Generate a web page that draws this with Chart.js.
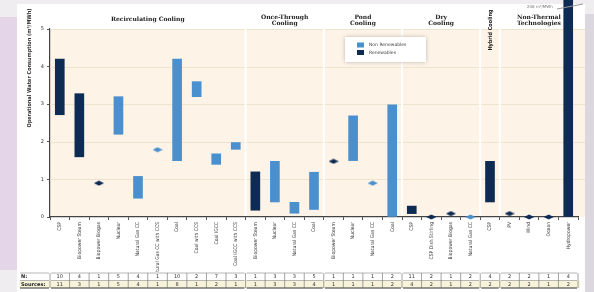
<!DOCTYPE html>
<html>
<head>
<meta charset="utf-8">
<script src="https://cdn.jsdelivr.net/npm/chart.js@4.4.1/dist/chart.umd.min.js"></script>
<style>
  html, body { margin: 0; padding: 0; background: #efedf0; }
  #wrap { width: 594px; height: 292px; }
</style>
</head>
<body>
<div id="wrap"><canvas id="myChart" width="594" height="292"></canvas></div>
<script>
let categories = [
  "CSP", "Biopower Steam", "Biopower Biogas", "Nuclear", "Natural Gas CC",
  "Natural Gas CC with CCS", "Coal", "Coal with CCS", "Coal IGCC", "Coal IGCC with CCS",
  "Biopower Steam", "Nuclear", "Natural Gas CC", "Coal",
  "Biopower Steam", "Nuclear", "Natural Gas CC", "Coal",
  "CSP", "CSP Dish Stirling", "Biopower Biogas", "Natural Gas CC",
  "CSP",
  "PV", "Wind", "Ocean", "Hydropower"
];

// floating ranges (low / high), null where there is no range bar
let nonRenewLow  = [null, null, null, 2.2, 0.5, null, 1.5, 3.2, 1.4, 1.8,
  null, 0.4, 0.1, 0.2,  null, 1.5, null, 0,  null, null, null, null,  null,  null, null, null, null];
let nonRenewHigh = [null, null, null, 3.2, 1.08, null, 4.2, 3.6, 1.68, 1.98,
  null, 1.48, 0.39, 1.19,  null, 2.69, null, 2.98,  null, null, null, null,  null,  null, null, null, null];
let renewLow  = [2.72, 1.6, null, null, null, null, null, null, null, null,
  0.18, null, null, null,  null, null, null, null,  0.09, null, null, null,  0.4,  null, null, null, 0];
let renewHigh = [4.2, 3.28, null, null, null, null, null, null, null, null,
  1.2, null, null, null,  null, null, null, null,  0.29, null, null, null,  1.48,  null, null, null, 208];

// single values (drawn as diamonds)
let nonRenewPoint = [null, null, null, null, null, 1.79, null, null, null, null,
  null, null, null, null,  null, null, 0.9, null,  null, null, null, 0,  null,  null, null, null, null];
let renewPoint = [null, null, 0.9, null, null, null, null, null, null, null,
  null, null, null, null,  1.48, null, null, null,  null, 0, 0.09, null,  null,  0.09, 0, 0, null];

let nCounts      = [10, 4, 1, 5, 4, 1, 10, 2, 7, 3,  1, 3, 3, 5,  1, 1, 1, 2,  11, 2, 1, 2,  4,  2, 2, 1, 4];
let sourceCounts = [11, 3, 1, 5, 4, 1, 8, 1, 2, 1,  1, 3, 3, 4,  1, 1, 1, 2,  4, 2, 1, 2,  2,  2, 2, 1, 2];

let groups = [
  { label: ["Recirculating Cooling"], from: 0, to: 9 },
  { label: ["Once-Through", "Cooling"], from: 10, to: 13 },
  { label: ["Pond", "Cooling"], from: 14, to: 17 },
  { label: ["Dry", "Cooling"], from: 18, to: 21 },
  { label: ["Hybrid Cooling"], from: 22, to: 22, vertical: true },
  { label: ["Non-Thermal", "Technologies"], from: 23, to: 26 }
];

let yTicks = [0, 1, 2, 3, 4, 5];

const lightBlue = "rgb(74, 143, 206)";
const darkBlue = "rgb(14, 43, 83)";
const narrow = "'Liberation Sans Narrow', 'DejaVu Sans Condensed', sans-serif";

function toRange(lows, highs) {
  return lows.map((l, i) => (l === null ? null : [l, highs[i]]));
}

function diamond(color) {
  let c = document.createElement("canvas");
  c.width = 10; c.height = 6;
  let g = c.getContext("2d");
  g.fillStyle = color;
  g.beginPath();
  g.moveTo(0, 3); g.lineTo(5, 0.5); g.lineTo(10, 3); g.lineTo(5, 5.5);
  g.closePath();
  g.fill();
  return c;
}

let decor = {
  id: "decor",
  beforeDraw(chart) {
    let ctx = chart.ctx, a = chart.chartArea;
    ctx.save();
    ctx.fillStyle = "#efedf0";
    ctx.fillRect(0, 0, 594, 292);
    ctx.fillStyle = "#ffffff";
    ctx.fillRect(17, 4, 568, 288);
    ctx.fillStyle = "#e4d6e8";
    ctx.fillRect(0, 17, 17, 253);
    ctx.fillStyle = "#dcd7de";
    ctx.fillRect(585, 14, 9, 278);
    ctx.fillStyle = "#fdf3e7";
    ctx.fillRect(a.left, a.top, 585 - a.left, a.bottom - a.top);
    ctx.restore();
  },
  beforeDatasetsDraw(chart) {
    let ctx = chart.ctx, a = chart.chartArea, x = chart.scales.x, y = chart.scales.y;
    ctx.save();
    ctx.strokeStyle = "#efe2cf";
    ctx.lineWidth = 1;
    yTicks.forEach(v => {
      if (v === 0) return;
      let py = Math.round(y.getPixelForValue(v)) + 0.5;
      ctx.beginPath(); ctx.moveTo(a.left, py); ctx.lineTo(585, py); ctx.stroke();
    });
    ctx.strokeStyle = "#ffffff";
    ctx.lineWidth = 2;
    groups.forEach((g, gi) => {
      if (gi === 0) return;
      let px = (x.getPixelForValue(g.from - 1) + x.getPixelForValue(g.from)) / 2;
      ctx.beginPath(); ctx.moveTo(px, a.top); ctx.lineTo(px, a.bottom - 1); ctx.stroke();
    });
    ctx.restore();
  },
  afterDraw(chart) {
    let ctx = chart.ctx, a = chart.chartArea, x = chart.scales.x;
    ctx.save();

    // group headers
    ctx.fillStyle = "#222";
    ctx.textAlign = "center";
    ctx.textBaseline = "middle";
    groups.forEach(g => {
      let cx = (x.getPixelForValue(g.from) + x.getPixelForValue(g.to)) / 2;
      if (g.vertical) {
        ctx.save();
        ctx.translate(cx + 1, 30);
        ctx.rotate(-Math.PI / 2);
        ctx.font = "bold 5.5px " + narrow;
        ctx.fillText(g.label[0], 0, 0);
        ctx.restore();
      } else if (g.label.length === 1) {
        ctx.font = "bold 6px 'DejaVu Serif', serif";
        ctx.fillText(g.label[0], cx, 19);
      } else {
        ctx.font = "bold 6px 'DejaVu Serif', serif";
        ctx.fillText(g.label[0], cx, 17);
        ctx.fillText(g.label[1], cx, 23);
      }
    });

    // y axis title
    ctx.save();
    ctx.translate(30, 68);
    ctx.rotate(-Math.PI / 2);
    ctx.font = "bold 5.5px " + narrow;
    ctx.fillStyle = "#333";
    ctx.fillText("Operational Water Consumption (m³/MWh)", 0, 0);
    ctx.restore();

    // legend
    ctx.save();
    ctx.shadowColor = "rgba(0,0,0,0.25)";
    ctx.shadowBlur = 4;
    ctx.fillStyle = "#ffffff";
    ctx.fillRect(345, 37, 81, 25);
    ctx.restore();
    ctx.fillStyle = lightBlue;
    ctx.fillRect(357, 42.5, 7, 5);
    ctx.fillStyle = darkBlue;
    ctx.fillRect(357, 50, 7, 5);
    ctx.fillStyle = "#444";
    ctx.textAlign = "left";
    ctx.font = "4.5px 'DejaVu Sans', sans-serif";
    ctx.fillText("Non Renewables", 369, 45.2);
    ctx.fillText("Renewables", 369, 52.7);

    // hydropower off-scale note
    ctx.fillStyle = "#777";
    ctx.font = "4px 'DejaVu Sans', sans-serif";
    ctx.fillText("208 m³/MWh", 527, 6.5);
    ctx.strokeStyle = "#999";
    ctx.lineWidth = 1;
    ctx.beginPath(); ctx.moveTo(557, 9); ctx.lineTo(583, 4); ctx.stroke();

    // N / Sources table
    let w = x.getPixelForValue(1) - x.getPixelForValue(0);
    let yTop = 273, yMid = 280.5, yBot = 288;
    ctx.fillStyle = "#ffffff";
    ctx.fillRect(19, yTop - 1, a.right + 2 - 19, yMid - yTop + 1);
    ctx.fillStyle = "#f6f3da";
    ctx.fillRect(19, yMid, a.right + 2 - 19, yBot - yMid);
    let segs = [[19, a.left]].concat(groups.map(g => [x.getPixelForValue(g.from) - w / 2, x.getPixelForValue(g.to) + w / 2]));
    segs.forEach(s => {
      ctx.strokeStyle = "#999"; ctx.lineWidth = 0.7;
      ctx.beginPath(); ctx.moveTo(s[0] + 1, yTop); ctx.lineTo(s[1] - 1, yTop); ctx.stroke();
      ctx.beginPath(); ctx.moveTo(s[0] + 1, yMid); ctx.lineTo(s[1] - 1, yMid); ctx.stroke();
      ctx.strokeStyle = "#333"; ctx.lineWidth = 1;
      ctx.beginPath(); ctx.moveTo(s[0] + 1, yBot); ctx.lineTo(s[1] - 1, yBot); ctx.stroke();
    });
    ctx.strokeStyle = "#666"; ctx.lineWidth = 0.6;
    for (let i = 0; i <= categories.length; i++) {
      let px = x.getPixelForValue(0) - w / 2 + i * w;
      ctx.beginPath(); ctx.moveTo(px, yTop); ctx.lineTo(px, yBot); ctx.stroke();
    }
    ctx.fillStyle = "#222";
    ctx.textAlign = "left";
    ctx.font = "bold 5px 'DejaVu Sans', sans-serif";
    ctx.fillText("N:", 21, (yTop + yMid) / 2);
    ctx.fillText("Sources:", 21, (yMid + yBot) / 2);
    ctx.textAlign = "center";
    ctx.font = "5px 'DejaVu Sans', sans-serif";
    ctx.fillStyle = "#333";
    categories.forEach((c, i) => {
      let px = x.getPixelForValue(i);
      ctx.fillText(String(nCounts[i]), px, (yTop + yMid) / 2 + 0.3);
      ctx.fillText(String(sourceCounts[i]), px, (yMid + yBot) / 2 + 0.3);
    });
    ctx.restore();
  }
};

let ctx = document.getElementById("myChart").getContext("2d");
let myChart = new Chart(ctx, {
  type: "bar",
  data: {
    labels: categories,
    datasets: [
      {
        label: "Non Renewables",
        data: toRange(nonRenewLow, nonRenewHigh),
        backgroundColor: lightBlue,
        barThickness: 9,
        grouped: false,
        clip: false
      },
      {
        label: "Renewables",
        data: toRange(renewLow, renewHigh),
        backgroundColor: darkBlue,
        barThickness: 9,
        grouped: false,
        clip: false
      },
      {
        type: "line",
        label: "Non Renewables (single value)",
        data: nonRenewPoint,
        showLine: false,
        pointStyle: diamond(lightBlue),
        clip: false
      },
      {
        type: "line",
        label: "Renewables (single value)",
        data: renewPoint,
        showLine: false,
        pointStyle: diamond(darkBlue),
        clip: false
      }
    ]
  },
  options: {
    responsive: false,
    animation: false,
    layout: { padding: { left: 17, right: 16, top: 29, bottom: 0 } },
    plugins: {
      legend: { display: false },
      tooltip: { enabled: false }
    },
    scales: {
      x: {
        afterFit(s) { s.height = 75; },
        grid: { display: true, drawOnChartArea: false, tickLength: 3, color: "#555", offset: true },
        border: { display: true, color: "#444", width: 1.2 },
        ticks: {
          autoSkip: false,
          minRotation: 90,
          maxRotation: 90,
          padding: 2,
          color: "#333",
          font: { family: narrow, size: 5 }
        }
      },
      y: {
        min: 0,
        max: 5,
        afterFit(s) { s.width = 33; },
        afterBuildTicks(s) { s.ticks = yTicks.map(v => ({ value: v })); },
        grid: { display: true, drawOnChartArea: false, tickLength: 3, color: "#555" },
        border: { display: true, color: "#444", width: 1.2 },
        ticks: {
          padding: 3,
          color: "#333",
          font: { family: "'DejaVu Sans', sans-serif", size: 5 }
        }
      }
    }
  },
  plugins: [decor]
});
</script>
</body>
</html>
